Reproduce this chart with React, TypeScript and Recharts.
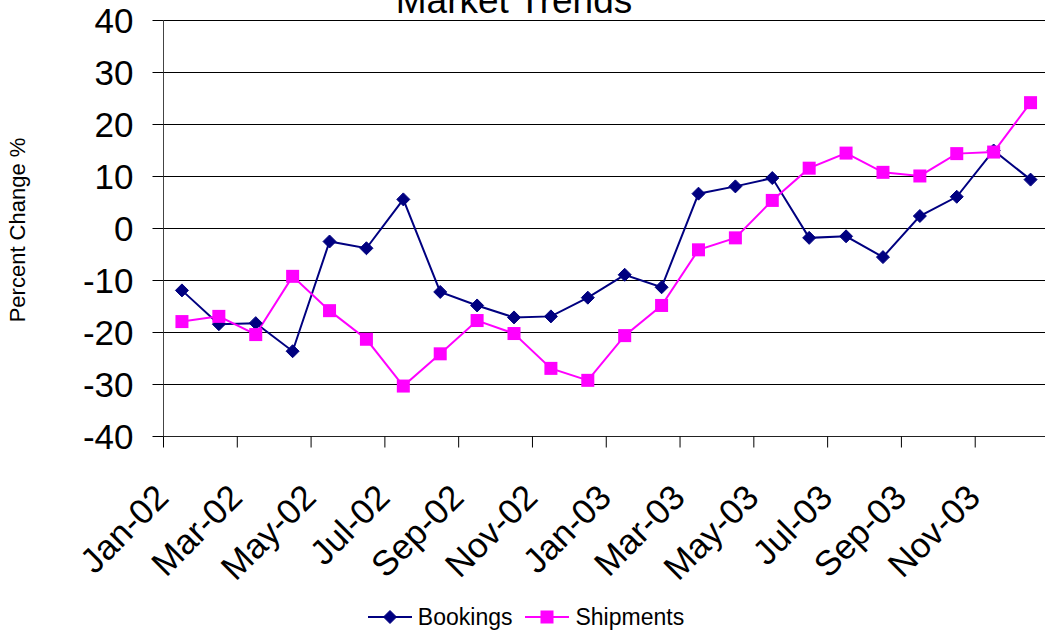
import { LineChart, Line, XAxis, YAxis, CartesianGrid, Legend } from 'recharts'

const FONT = '"Liberation Sans", Arial, sans-serif'

const months = [
  'Jan-02', 'Feb-02', 'Mar-02', 'Apr-02', 'May-02', 'Jun-02',
  'Jul-02', 'Aug-02', 'Sep-02', 'Oct-02', 'Nov-02', 'Dec-02',
  'Jan-03', 'Feb-03', 'Mar-03', 'Apr-03', 'May-03', 'Jun-03',
  'Jul-03', 'Aug-03', 'Sep-03', 'Oct-03', 'Nov-03', 'Dec-03',
]

const bookings = [
  -11.9, -18.4, -18.2, -23.6, -2.5, -3.8, 5.6, -12.2, -14.8, -17.1, -16.9, -13.3,
  -8.9, -11.3, 6.7, 8.1, 9.7, -1.8, -1.5, -5.5, 2.4, 6.1, 15.0, 9.4,
]

const shipments = [
  -17.9, -16.9, -20.4, -9.2, -15.8, -21.3, -30.3, -24.1, -17.7, -20.2, -26.9, -29.2,
  -20.6, -14.8, -4.1, -1.8, 5.4, 11.6, 14.5, 10.8, 10.1, 14.4, 14.7, 24.2,
]

const yTicks = [-40, -30, -20, -10, 0, 10, 20, 30, 40]
// label every other month, tick marks sit on category boundaries
const xTicks = [0, 2, 4, 6, 8, 10, 12, 14, 16, 18, 20, 22]

const NAVY = '#000080'
const MAGENTA = '#FF00FF'

const data = months.map((m, i) => ({
  pos: i + 0.5,
  month: m,
  bookings: bookings[i],
  shipments: shipments[i],
}))

function Diamond({ cx, cy, size = 6.5 }: any) {
  return (
    <polygon
      points={`${cx},${cy - size} ${cx + size},${cy} ${cx},${cy + size} ${cx - size},${cy}`}
      fill={NAVY}
      stroke={NAVY}
    />
  )
}

function Square({ cx, cy, size = 6.5 }: any) {
  return <rect x={cx - size} y={cy - size} width={size * 2} height={size * 2} fill={MAGENTA} />
}

function MonthTick({ x, y, payload }: any) {
  const ax = x + 7
  const ay = y + 52
  return (
    <text
      x={ax}
      y={ay}
      textAnchor="end"
      fontSize={35}
      fontFamily={FONT}
      fill="#000"
      transform={`rotate(-45, ${ax}, ${ay})`}
    >
      {months[payload.value]}
    </text>
  )
}

function LegendContent({ payload }: any) {
  return (
    <div
      style={{
        display: 'flex',
        justifyContent: 'center',
        alignItems: 'center',
        fontFamily: FONT,
        fontSize: 23,
        color: '#000',
        lineHeight: '26px',
      }}
    >
      {(payload || []).map((entry: any, i: number) => (
        <div key={entry.value} style={{ display: 'flex', alignItems: 'center', marginLeft: i ? 13 : 0 }}>
          <svg width={44} height={16}>
            <line x1={0} y1={8} x2={44} y2={8} stroke={entry.color} strokeWidth={2} />
            {entry.dataKey === 'bookings' ? (
              <Diamond cx={22} cy={8} size={6.5} />
            ) : (
              <Square cx={22} cy={8} size={6.5} />
            )}
          </svg>
          <span style={{ marginLeft: 6 }}>{entry.value}</span>
        </div>
      ))}
    </div>
  )
}

export default function App() {
  return (
    <div style={{ position: 'absolute', left: 0, top: 0, width: 1045, height: 635, overflow: 'hidden', background: '#fff' }}>
      <LineChart width={1052} height={635} data={data} margin={{ top: 20.5, right: 3, bottom: 0, left: 0 }}>
        <text x={514} y={13} textAnchor="middle" fontSize={37} fontFamily={FONT} fill="#000">
          Market Trends
        </text>
        <CartesianGrid vertical={false} stroke="#000" />
        <XAxis
          type="number"
          dataKey="pos"
          domain={[0, 24]}
          ticks={xTicks}
          interval={0}
          height={198.5}
          tickSize={11}
          tickMargin={0}
          tick={<MonthTick />}
          axisLine={{ stroke: '#222' }}
          tickLine={{ stroke: '#000' }}
        />
        <YAxis
          domain={[-40, 40]}
          ticks={yTicks}
          interval={0}
          width={163.5}
          tickSize={11}
          tickMargin={19}
          tick={{ fontSize: 35, fontFamily: FONT, fill: '#000' }}
          axisLine={{ stroke: '#444' }}
          tickLine={{ stroke: '#000' }}
          label={{
            content: () => (
              <text
                x={25}
                y={230}
                textAnchor="middle"
                fontSize={22}
                fontFamily={FONT}
                fill="#000"
                transform="rotate(-90, 25, 230)"
              >
                Percent Change %
              </text>
            ),
          }}
        />
        <Legend
          layout="horizontal"
          align="center"
          verticalAlign="middle"
          wrapperStyle={{ top: 604, left: 0, width: 1052 }}
          content={<LegendContent />}
        />
        <Line
          type="linear"
          dataKey="bookings"
          name="Bookings"
          stroke={NAVY}
          strokeWidth={2}
          dot={(p: any) => <Diamond key={`b-${p.index}`} cx={p.cx} cy={p.cy} />}
          activeDot={false}
          isAnimationActive={false}
        />
        <Line
          type="linear"
          dataKey="shipments"
          name="Shipments"
          stroke={MAGENTA}
          strokeWidth={2}
          dot={(p: any) => <Square key={`s-${p.index}`} cx={p.cx} cy={p.cy} />}
          activeDot={false}
          isAnimationActive={false}
        />
      </LineChart>
    </div>
  )
}
